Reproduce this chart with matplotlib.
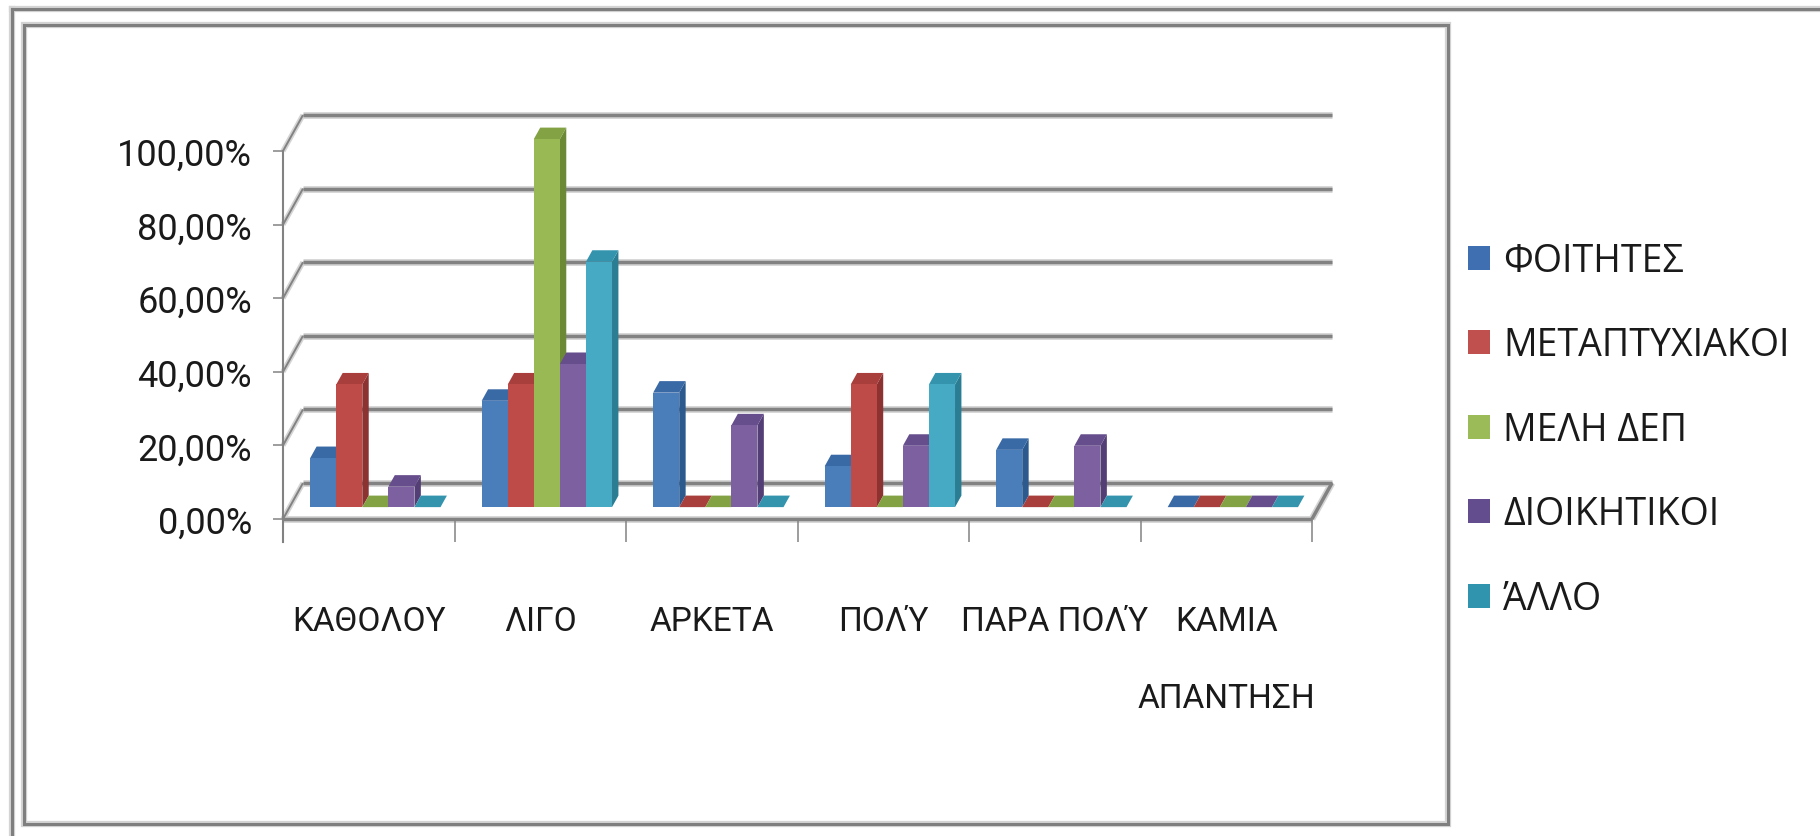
import matplotlib
matplotlib.use("Agg")
import matplotlib.pyplot as plt
from matplotlib import font_manager
from matplotlib.patches import Polygon, Patch, Rectangle
from matplotlib.lines import Line2D

# ---- data -------------------------------------------------------------
categories = ["ΚΑΘΟΛΟΥ", "ΛΙΓΟ", "ΑΡΚΕΤΑ", "ΠΟΛΎ", "ΠΑΡΑ ΠΟΛΎ", "ΚΑΜΙΑ\nΑΠΑΝΤΗΣΗ"]
series_names = ["ΦΟΙΤΗΤΕΣ", "ΜΕΤΑΠΤΥΧΙΑΚΟΙ", "ΜΕΛΗ ΔΕΠ", "ΔΙΟΙΚΗΤΙΚΟΙ", "ΆΛΛΟ"]
foitites = [13.33, 28.89, 31.11, 11.11, 15.56, 0.0]
metaptyxiakoi = [33.33, 33.33, 0.0, 33.33, 0.0, 0.0]
meli_dep = [0.0, 100.0, 0.0, 0.0, 0.0, 0.0]
dioikitikoi = [5.56, 38.89, 22.22, 16.67, 16.67, 0.0]
allo = [0.0, 66.67, 0.0, 33.33, 0.0, 0.0]
y_ticks = [0, 20, 40, 60, 80, 100]
y_tick_labels = ["0,00%", "20,00%", "40,00%", "60,00%", "80,00%", "100,00%"]

series_values = [foitites, metaptyxiakoi, meli_dep, dioikitikoi, allo]

# face colours per series: front, top, side, legend key
front_colors = ["#4a7ebb", "#be4b48", "#98b954", "#7d60a0", "#46aac5"]
top_colors = ["#3a6aa6", "#a93f3c", "#82a244", "#664d8c", "#3494ae"]
side_colors = ["#2c5a8f", "#8c3230", "#6c8a36", "#533f75", "#2a7d93"]
legend_colors = ["#3f6fb0", "#c0504d", "#9bbb59", "#644d8f", "#3194ae"]

W, H = 1820, 837
GRID = "#828282"
HALO = "#d4d4d4"
TEXT = "#1a1a1a"
LEGEND_FONT = ["Open Sans", "DejaVu Sans"]

# axis labels use a narrow face when one is installed
_installed = {f.name for f in font_manager.fontManager.ttflist}
if "Liberation Sans Narrow" in _installed:
    LABEL_FONT = ["Liberation Sans Narrow", "DejaVu Sans"]
    YTICK_SIZE, XTICK_SIZE = 29, 27
else:
    LABEL_FONT = ["Roboto", "DejaVu Sans"]
    YTICK_SIZE, XTICK_SIZE = 26, 24

fig = plt.figure(figsize=(W / 100, H / 100), dpi=100)
fig.patch.set_facecolor("white")

# front plane of the 3-D box: categories along x, percent along y
ax = fig.add_axes([283 / W, 1 - 520 / H, (1312 - 283) / W, (520 - 152) / H])
ax.set_xlim(0, len(categories))
ax.set_ylim(0, 100)
ax.set_facecolor("none")
for sp in ax.spines.values():
    sp.set_visible(False)

px_x = (1312 - 283) / len(categories)   # pixels per category
px_y = (520 - 152) / 100.0              # pixels per percent
DX = 20 / px_x                           # depth offset of the back wall
DY = 36 / px_y


def P(x, y, d):
    """Oblique projection of point (x, y) at depth fraction d."""
    return (x + d * DX, y + d * DY)


def grid_line(p0, p1, lw=2.5, z=1):
    xs, ys = [p0[0], p1[0]], [p0[1], p1[1]]
    ax.plot(xs, ys, color=HALO, lw=lw + 2.4, solid_capstyle="butt",
            clip_on=False, zorder=z)
    ax.plot(xs, ys, color=GRID, lw=lw, solid_capstyle="butt",
            clip_on=False, zorder=z + 0.1)


ncat = len(categories)
# back wall gridlines and floor back edge
for t in y_ticks:
    grid_line(P(0, t, 1), P(ncat, t, 1))
# side wall diagonals
for t in y_ticks:
    grid_line(P(0, t, 0), P(0, t, 1), lw=1.4)
# floor front and right edges
grid_line(P(0, 0, 0), P(ncat, 0, 0))
grid_line(P(ncat, 0, 0), P(ncat, 0, 1))

# vertical value axis
ax.plot([0, 0], [-6.3, 100], color=GRID, lw=1.5, clip_on=False, zorder=2)

# ---- bars --------------------------------------------------------------
nser = len(series_values)
bar_w = 0.152
pad = (1 - nser * bar_w) / 2
d0, d1 = 0.33, 0.65
for i in range(ncat):
    for s in range(nser):
        v = series_values[s][i]
        x0 = i + pad + s * bar_w
        x1 = x0 + bar_w
        z = 5 + i * 10 + s
        side = [P(x1, 0, d0), P(x1, 0, d1), P(x1, v, d1), P(x1, v, d0)]
        top = [P(x0, v, d0), P(x1, v, d0), P(x1, v, d1), P(x0, v, d1)]
        front = [P(x0, 0, d0), P(x1, 0, d0), P(x1, v, d0), P(x0, v, d0)]
        ax.add_patch(Polygon(side, closed=True, facecolor=side_colors[s],
                             edgecolor="none", clip_on=False, zorder=z))
        ax.add_patch(Polygon(top, closed=True, facecolor=top_colors[s],
                             edgecolor="none", clip_on=False, zorder=z))
        if v > 0:
            ax.add_patch(Polygon(front, closed=True, facecolor=front_colors[s],
                                 edgecolor="none", clip_on=False, zorder=z))

# ---- axes ticks and labels ----------------------------------------------
ax.set_yticks(y_ticks)
ax.set_yticklabels(y_tick_labels, family=LABEL_FONT, fontsize=YTICK_SIZE, color=TEXT)
ax.tick_params(axis="y", length=7.2, width=1.1, color=GRID, pad=15)

ax.set_xticks([i + 0.5 for i in range(ncat)])
ax.set_xticklabels(categories, family=LABEL_FONT, fontsize=XTICK_SIZE, color=TEXT,
                   linespacing=2.8, va="top")
ax.set_xticks(range(ncat + 1), minor=True)
ax.tick_params(axis="x", which="major", length=0, pad=62)
ax.tick_params(axis="x", which="minor", length=16.5, width=1.1, color=GRID)

# ---- legend -------------------------------------------------------------
handles = [Patch(facecolor=c, edgecolor="none") for c in legend_colors]
ax.legend(handles, series_names, loc="upper left",
          bbox_to_anchor=(1468 / W, 1 - 243 / H), bbox_transform=fig.transFigure,
          frameon=False, prop={"family": LEGEND_FONT, "size": 27},
          handlelength=0.59, handleheight=0.59, handletextpad=0.35,
          labelspacing=1.24, borderpad=0, borderaxespad=0, labelcolor=TEXT)

# ---- chart frames ---------------------------------------------------------
def fx(x):
    return x / W


def fy(y):
    return 1 - y / H


for col, lw in ((HALO, 4.5), ("#7f7f7f", 2.2)):
    fig.add_artist(Line2D([fx(12), fx(12)], [fy(10), fy(H)], color=col, lw=lw,
                          transform=fig.transFigure))
    fig.add_artist(Line2D([fx(12), fx(W)], [fy(10), fy(10)], color=col, lw=lw,
                          transform=fig.transFigure))
    fig.add_artist(Rectangle((fx(24), fy(825)), fx(1448) - fx(24), fy(26) - fy(825),
                             fill=False, edgecolor=col, lw=lw,
                             transform=fig.transFigure))

fig.savefig("out.png", dpi=100, facecolor="white")
